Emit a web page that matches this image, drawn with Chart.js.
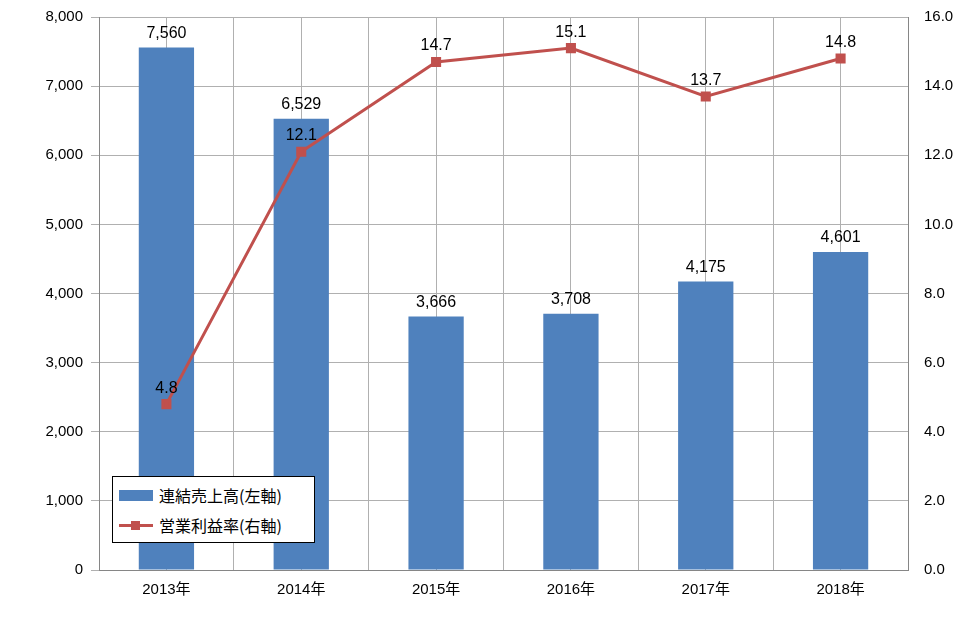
<!DOCTYPE html>
<html><head><meta charset="utf-8">
<script src="https://cdn.jsdelivr.net/npm/chart.js@4.4.1/dist/chart.umd.min.js"></script>
<style>
body{margin:0;background:#fff;}
#wrap{position:relative;width:976px;height:637px;}
#legend{position:absolute;left:112px;top:476px;width:203px;height:67px;border:1px solid #000;background:#fff;font-family:"Noto Sans CJK JP",sans-serif;font-size:16px;color:#000;box-sizing:border-box;}
.row{position:absolute;left:6px;display:flex;align-items:center;}
</style></head><body>
<div id="wrap"><canvas id="c" width="976" height="637"></canvas>
<div id="legend">
<div class="row" style="top:6px"><span style="display:inline-block;width:34px;height:11px;background:#4f81bd;margin-right:6px"></span>連結売上高(左軸)</div>
<div class="row" style="top:36px"><span style="position:relative;display:inline-block;width:34px;height:11px;margin-right:6px"><span style="position:absolute;left:0;top:4px;width:34px;height:3px;background:#c0504d"></span><span style="position:absolute;left:12px;top:1px;width:9px;height:9px;background:#c0504d"></span></span>営業利益率(右軸)</div>
</div></div>
<script>
const categories=["2013年","2014年","2015年","2016年","2017年","2018年"];
const sales=[7560,6529,3666,3708,4175,4601];
const margin=[4.8,12.1,14.7,15.1,13.7,14.8];
const labelPlugin={id:'lbl',afterDatasetsDraw(ch){const c=ch.ctx;c.save();c.font='16px "Liberation Sans", sans-serif';c.fillStyle='#000';c.textAlign='center';c.textBaseline='bottom';
ch.getDatasetMeta(1).data.forEach((e,i)=>c.fillText(sales[i].toLocaleString('en-US'),e.x,e.y-6));
ch.getDatasetMeta(0).data.forEach((e,i)=>c.fillText(margin[i].toFixed(1),e.x,e.y-8));c.restore();}};
new Chart(document.getElementById('c'),{
data:{labels:categories,datasets:[
{type:'line',data:margin,yAxisID:'y1',borderColor:'#c0504d',backgroundColor:'#c0504d',borderWidth:3,pointStyle:'rect',pointRadius:5,order:0},
{type:'bar',data:sales,yAxisID:'y',backgroundColor:'#4f81bd',barPercentage:0.41,categoryPercentage:1,order:1}]},
options:{responsive:false,animation:false,layout:{padding:{left:0,right:10,top:10,bottom:35}},
plugins:{legend:{display:false},tooltip:{enabled:false}},
scales:{
x:{grid:{display:false},border:{color:'#868686'},ticks:{color:'#000',font:{size:15,family:'"Liberation Sans","Noto Sans CJK JP"'}}},
xg:{type:'linear',min:0,max:12,display:true,position:'bottom',grid:{color:'#b0b0b0',drawTicks:false},ticks:{display:false,stepSize:1},border:{display:false}},
y:{min:0,max:8000,position:'left',ticks:{stepSize:1000,color:'#000',font:{size:15,family:'"Liberation Sans"'},callback:v=>v.toLocaleString('en-US'),padding:8},grid:{color:'#b0b0b0'},border:{color:'#868686'},afterFit(a){a.width=99;}},
y1:{min:0,max:16,position:'right',ticks:{stepSize:2,color:'#000',font:{size:15,family:'"Liberation Sans"'},callback:v=>v.toFixed(1),padding:8},grid:{display:false},border:{color:'#868686'},afterFit(a){a.width=58;}}
}},plugins:[labelPlugin]});
</script></body></html>
